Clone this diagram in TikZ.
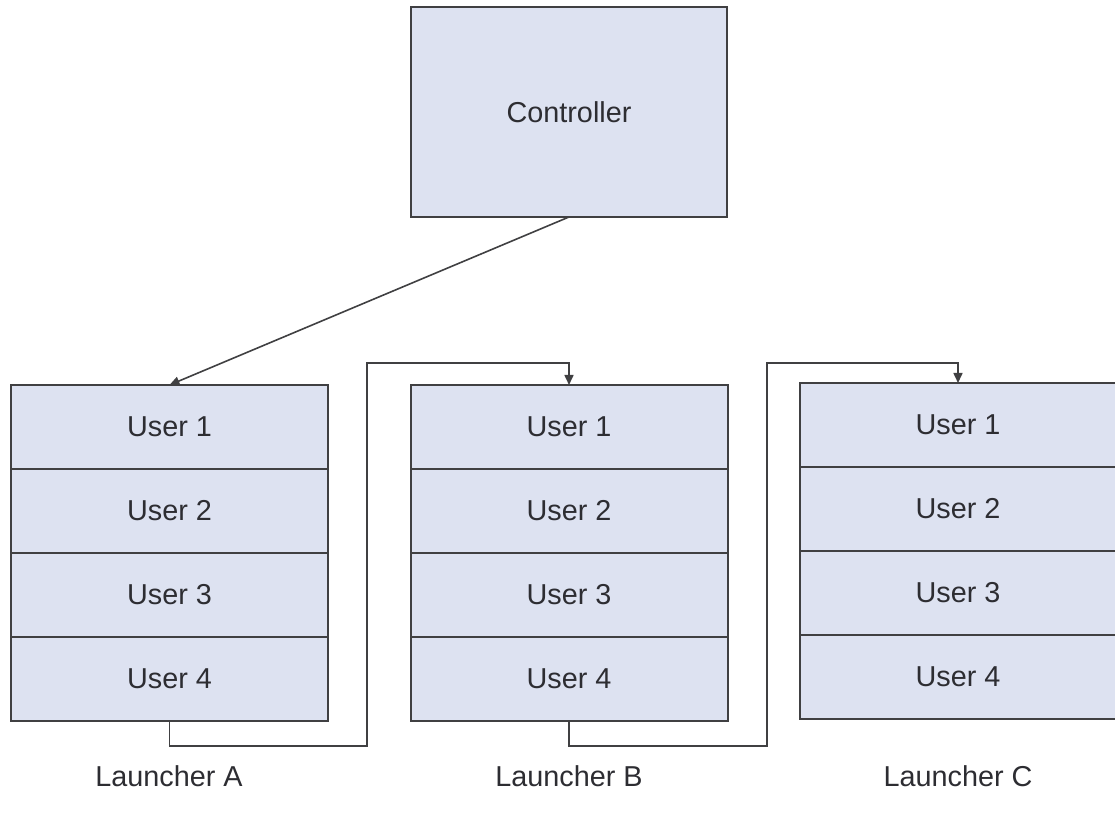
\documentclass[tikz,border=0pt]{standalone}
\usepackage{fontspec}
\setmainfont{Liberation Sans}
\usetikzlibrary{arrows.meta}
\definecolor{boxfill}{RGB}{221,226,241}
\definecolor{boxline}{RGB}{64,64,66}
\definecolor{txt}{RGB}{45,45,50}
\tikzset{
  cell/.style={draw=boxline, fill=boxfill, line width=1pt, inner sep=0pt, outer sep=0pt,
    minimum width=158.5pt, minimum height=42pt, text=txt,
    font=\fontsize{14.4}{17}\selectfont},
  ctrl/.style={cell, minimum width=158pt, minimum height=105pt},
  lbl/.style={text=txt, font=\fontsize{14.4}{17}\selectfont, inner sep=0pt},
  link/.style={draw=boxline, line width=0.8pt, -{Triangle[length=5pt,width=4.5pt]}}
}
\begin{document}
\begin{tikzpicture}[x=0.5pt, y=-0.5pt]
  \useasboundingbox (0,0) rectangle (1115,822);

  % controller
  \node[ctrl] (ctrl) at (569,112) {Controller};

  % launcher A
  \node[cell] (A1) at (169.5,427) {User 1};
  \node[cell] (A2) at (169.5,511) {User 2};
  \node[cell] (A3) at (169.5,595) {User 3};
  \node[cell] (A4) at (169.5,679) {User 4};

  % launcher B
  \node[cell] (B1) at (569,427) {User 1};
  \node[cell] (B2) at (569,511) {User 2};
  \node[cell] (B3) at (569,595) {User 3};
  \node[cell] (B4) at (569,679) {User 4};

  % launcher C
  \node[cell] (C1) at (958,425) {User 1};
  \node[cell] (C2) at (958,509) {User 2};
  \node[cell] (C3) at (958,593) {User 3};
  \node[cell] (C4) at (958,677) {User 4};

  % captions
  \node[lbl] (la) at (169,776) {Launcher A};
  \node[lbl] (lb) at (569,776) {Launcher B};
  \node[lbl] (lc) at (958,776) {Launcher C};

  % bend points of the chained links
  \coordinate (ab1) at (367,746);
  \coordinate (ab2) at (367,363);
  \coordinate (bc1) at (767,746);
  \coordinate (bc2) at (767,363);

  % links
  \draw[link] (ctrl.south) -- (A1.north);
  \draw[link] (A4.south) |- (ab1) -- (ab2) -| (B1.north);
  \draw[link] (B4.south) |- (bc1) -- (bc2) -| (C1.north);
\end{tikzpicture}
\end{document}
